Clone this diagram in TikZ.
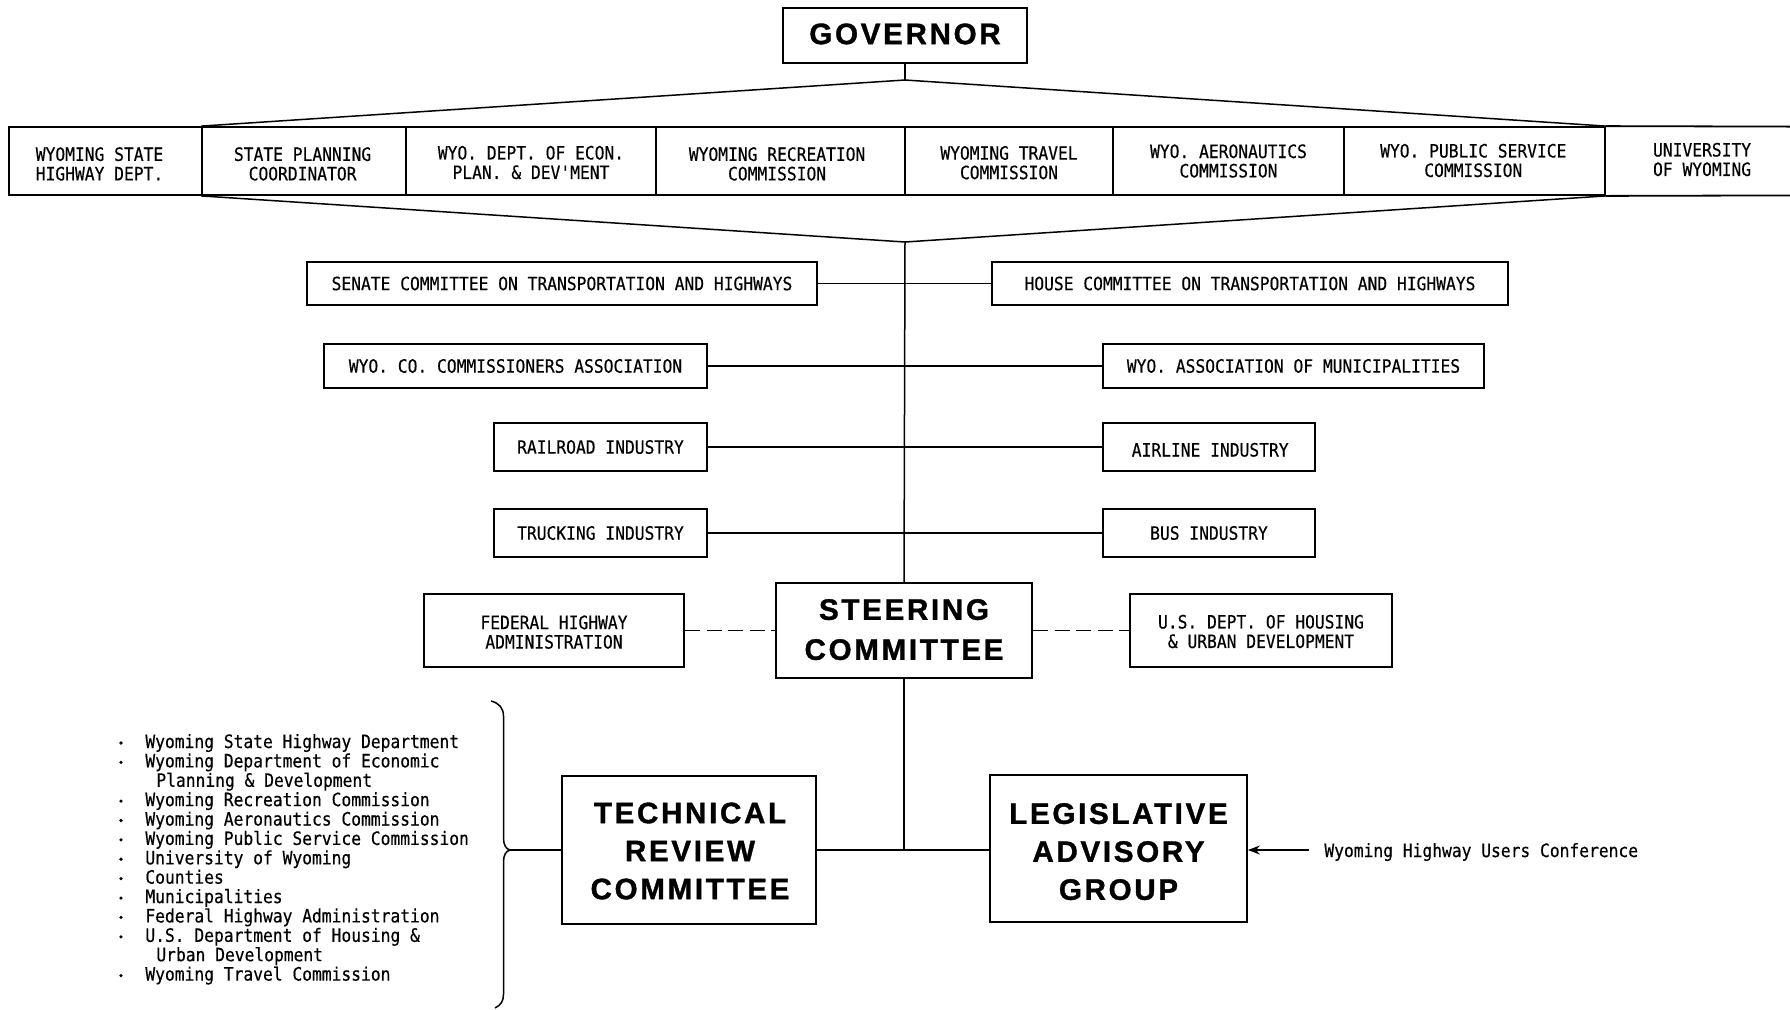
\documentclass[tikz,border=0pt]{standalone}
\usepackage{fontspec}
\usetikzlibrary{arrows.meta}
\newfontfamily\plotfont[FakeStretch=0.885,FakeBold=0.4]{DejaVu Sans Mono}
\newfontfamily\headfont[LetterSpace=9,FakeBold=1.2]{Liberation Sans Bold}
\tikzset{
  box/.style={draw, line width=0.9pt, inner sep=0pt, align=center,
    font=\plotfont\fontsize{9.2pt}{9.7pt}\selectfont},
  bigbox/.style={box, font=\headfont\fontsize{14.8pt}{19pt}\selectfont},
  plain/.style={inner sep=0pt, align=center,
    font=\plotfont\fontsize{9.2pt}{9.7pt}\selectfont},
  conn/.style={line width=0.75pt},
  dashconn/.style={conn, dash pattern=on 7.5pt off 3.3pt},
}
% box given by its corners: style, name, x1, y1, x2, y2, text
\newcommand\abox[7]{%
  \node[#1, minimum width={(#5-#3)*0.5pt}, minimum height={(#6-#4)*0.5pt}]
    (#2) at ({(#3+#5)/2},{(#4+#6)/2}) {#7};}
% centred lines of text nudged by dx, dy inside their box
\newcommand\nudge[3]{\hspace*{#1}\raisebox{#2}[\height][\depth]{%
  \begin{tabular}{@{}c@{}}#3\end{tabular}}\hspace*{-#1}}
\begin{document}
\begin{tikzpicture}[x=0.5pt,y=-0.5pt]
\useasboundingbox (0,0) rectangle (1790,1009);

% Governor
\abox{bigbox}{gov}{783}{8}{1027}{63}{\nudge{0pt}{-0.5pt}{GOVERNOR}}
\coordinate (gj) at (905,80);

% Row of state agencies
\abox{box}{hwy}{9}{127}{202}{195}{\nudge{-3pt}{-2.85pt}{WYOMING STATE\\HIGHWAY DEPT.}}
\abox{box}{spc}{202}{127}{406}{195}{\nudge{-0.7pt}{-2.85pt}{STATE PLANNING\\COORDINATOR}}
\abox{box}{econ}{406}{127}{656}{195}{\nudge{0pt}{-2.15pt}{WYO. DEPT. OF ECON.\\PLAN. \& DEV'MENT}}
\abox{box}{rec}{656}{127}{905}{195}{\nudge{-1.7pt}{-2.85pt}{WYOMING RECREATION\\COMMISSION}}
\abox{box}{trav}{905}{127}{1113}{195}{\nudge{0pt}{-2.25pt}{WYOMING TRAVEL\\COMMISSION}}
\abox{box}{aero}{1113}{127}{1344}{195}{WYO. AERONAUTICS\\COMMISSION}
\abox{box}{psc}{1344}{127}{1605}{195}{\nudge{-0.6pt}{-1.15pt}{WYO. PUBLIC SERVICE\\COMMISSION}}
\abox{plain}{uw}{1605}{127}{1790}{195}{\nudge{2.3pt}{-0.65pt}{UNIVERSITY\\OF WYOMING}}
\draw[line width=0.9pt] (psc.north east) -- (uw.north east);
\draw[line width=0.9pt] (psc.south east) -- (uw.south east);

% Funnel from the governor to the row, and from the row down
\draw[conn] (gov.south) -- (gj);
\draw[conn] (spc.north west) -- (gj) -- (psc.north east);
\coordinate (fj) at (905,242);
\draw[conn] (spc.south west) -- (fj) -- (psc.south east);

% Committees, associations and industries
\abox{box}{senate}{307}{262}{817}{305}{SENATE COMMITTEE ON TRANSPORTATION AND HIGHWAYS}
\abox{box}{house}{992}{262}{1508}{305}{HOUSE COMMITTEE ON TRANSPORTATION AND HIGHWAYS}
\abox{box}{county}{324}{344}{707}{388}{WYO. CO. COMMISSIONERS ASSOCIATION}
\abox{box}{muni}{1103}{344}{1484}{388}{WYO. ASSOCIATION OF MUNICIPALITIES}
\abox{box}{rail}{494}{423}{707}{471}{RAILROAD INDUSTRY}
\abox{box}{air}{1103}{423}{1315}{471}{\nudge{0.6pt}{-2.8pt}{AIRLINE INDUSTRY}}
\abox{box}{truck}{494}{509}{707}{557}{TRUCKING INDUSTRY}
\abox{box}{bus}{1103}{509}{1315}{557}{BUS INDUSTRY}

% Steering committee and federal partners
\abox{bigbox, font=\headfont\fontsize{14.8pt}{20pt}\selectfont}{steer}{776}{583}{1032}{678}{\nudge{0pt}{-0.65pt}{STEERING\\COMMITTEE}}
\abox{box}{fhwa}{424}{594}{684}{667}{\nudge{0pt}{-2.2pt}{FEDERAL HIGHWAY\\ADMINISTRATION}}
\abox{box}{hud}{1130}{594}{1392}{667}{\nudge{0pt}{-1.9pt}{U.S. DEPT. OF HOUSING\\\& URBAN DEVELOPMENT}}

\draw[conn] (fj) -- (steer.north);
\draw[conn] (senate.east) -- (house.west);
\draw[conn] (county.east) -- (muni.west);
\draw[conn] (rail.east) -- (air.west);
\draw[conn] (truck.east) -- (bus.west);
\draw[dashconn] (fhwa.east) -- (steer.west);
\draw[dashconn] (steer.east) -- (hud.west);

% Lower level
\abox{bigbox}{tech}{562}{776}{816}{924}{\nudge{0.5pt}{-1.8pt}{TECHNICAL\\REVIEW\\COMMITTEE}}
\abox{bigbox}{legis}{990}{775}{1247}{922}{\nudge{0pt}{-2.85pt}{LEGISLATIVE\\ADVISORY\\GROUP}}
\coordinate (bj) at (steer.south |- tech.east);
\draw[conn] (steer.south) -- (bj);
\draw[conn] (tech.east) -- (tech.east -| legis.west);

% Highway users conference feeding the advisory group
\node[plain, anchor=west] (users) at (1324,852) {Wyoming Highway Users Conference};
\coordinate (ut) at (1309,850);
\draw[conn, -{Stealth[length=6pt,width=4.5pt]}] (ut) -- (ut -| legis.east);

% Member list and brace
\foreach \txt/\dx/\b [count=\i] in {
  {Wyoming State Highway Department}/0/1,
  {Wyoming Department of Economic}/0/1,
  {Planning \& Development}/11/0,
  {Wyoming Recreation Commission}/0/1,
  {Wyoming Aeronautics Commission}/0/1,
  {Wyoming Public Service Commission}/0/1,
  {University of Wyoming}/0/1,
  {Counties}/0/1,
  {Municipalities}/0/1,
  {Federal Highway Administration}/0/1,
  {U.S. Department of Housing \&}/0/1,
  {Urban Development}/11/0,
  {Wyoming Travel Commission}/0/1}{
  \pgfmathsetmacro{\yy}{748+19.38*(\i-1)}
  \node[plain, anchor=base west] (m\i) at (145+\dx,\yy) {\txt};
  \ifnum\b=1 \fill (121,\yy-5) circle[radius=1.8]; \fi
}
\coordinate (bt) at (510,850);
\draw[conn] (491,701) .. controls (499,703) and (503.5,708) .. (503.5,716)
  -- (503.5,838) .. controls (503.5,845) and (506,849) .. (bt)
  .. controls (506,851) and (503.5,855) .. (503.5,862)
  -- (503.5,994) .. controls (503.5,1001) and (501,1005) .. (495,1008);
\draw[conn] (bt) -- (bt -| tech.west);
\end{tikzpicture}
\end{document}
